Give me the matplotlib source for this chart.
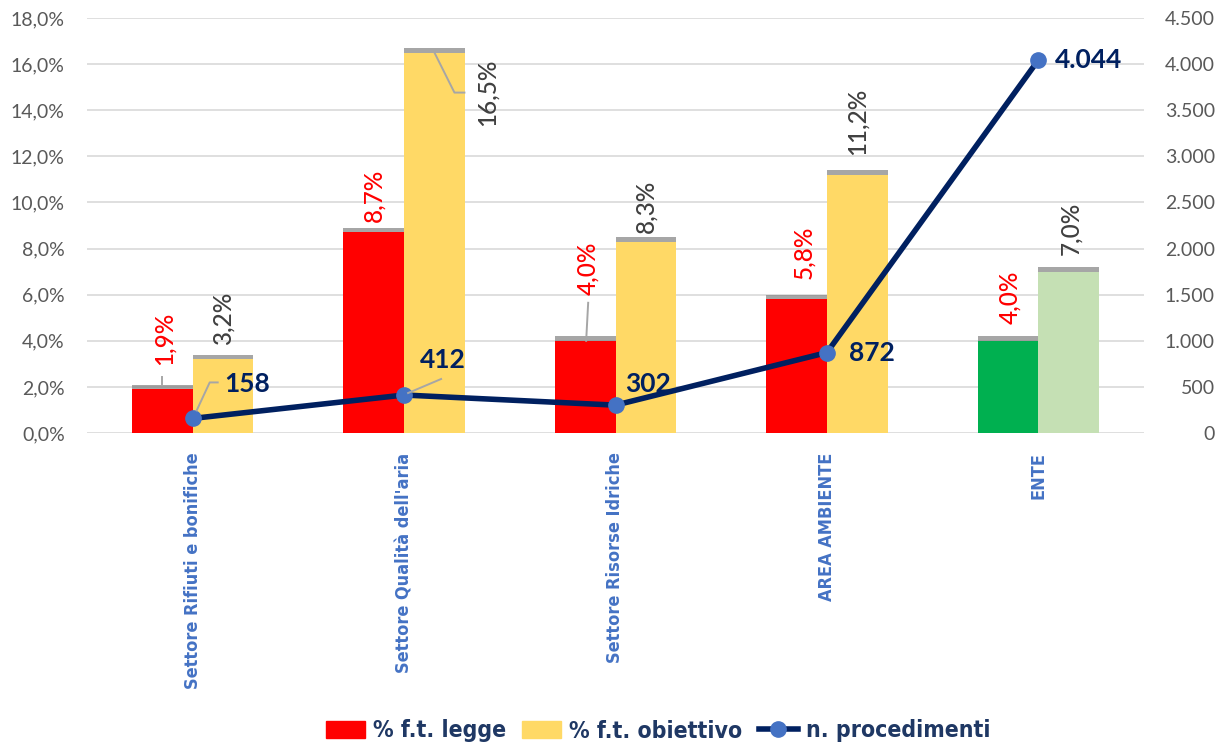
import matplotlib
matplotlib.use('Agg')
import matplotlib.pyplot as plt
import matplotlib.patheffects as pe
from matplotlib.lines import Line2D
from matplotlib.patches import Patch
from matplotlib.transforms import IdentityTransform
from matplotlib import font_manager as fm
import numpy as np

categories = ['Settore Rifiuti e bonifiche', "Settore Qualità dell'aria",
              'Settore Risorse Idriche', 'AREA AMBIENTE', 'ENTE']
legge = [1.9, 8.7, 4.0, 5.8, 4.0]
obiettivo = [3.2, 16.5, 8.3, 11.2, 7.0]
procedimenti = [158, 412, 302, 872, 4044]
left_ticks = [0, 2, 4, 6, 8, 10, 12, 14, 16, 18]
right_ticks = [0, 500, 1000, 1500, 2000, 2500, 3000, 3500, 4000, 4500]
series_names = ['% f.t. legge', '% f.t. obiettivo', 'n. procedimenti']


def has_font(name):
    try:
        fm.findfont(fm.FontProperties(family=name), fallback_to_default=False)
        return True
    except Exception:
        return False


NUM_FONT = 'Lato' if has_font('Lato') else 'DejaVu Sans'
NARROW = 'Liberation Sans Narrow' if has_font('Liberation Sans Narrow') else None


def narrow_props(size):
    if NARROW:
        return fm.FontProperties(family=NARROW, size=size, weight='bold')
    return fm.FontProperties(family='DejaVu Sans', size=size * 0.85, weight='bold', stretch='condensed')


def pct(v):
    return f"{v:.1f}%".replace('.', ',')


def thou(n):
    return f"{n:,}".replace(',', '.')


RED, YELLOW = '#FF0000', '#FFD966'
GREEN, LGREEN = '#00B050', '#C5E0B4'
NAVY, MBLUE, CATBLUE = '#002060', '#4472C4', '#4472C4'
GRAYTXT = '#595959'
LC = '#A6A6A6'

legge_colors = [RED] * 4 + [GREEN]
obiettivo_colors = [YELLOW] * 4 + [LGREEN]

fig = plt.figure(figsize=(12.3, 7.48), dpi=100)
ax = fig.add_axes([87 / 1230, 1 - 433 / 748, (1144 - 87) / 1230, (433 - 18) / 748])
ax2 = ax.twinx()

x = np.arange(len(categories))
w = 0.287

shadow = [pe.SimplePatchShadow(offset=(0, 3.2), shadow_rgbFace='#808080', alpha=0.7), pe.Normal()]
ax.bar(x - w / 2, legge, w, color=legge_colors, zorder=3, path_effects=shadow)
ax.bar(x + w / 2, obiettivo, w, color=obiettivo_colors, zorder=3, path_effects=shadow)

ax.set_xlim(-0.5, len(categories) - 0.5)
ax.set_ylim(0, 18)
ax.set_yticks(left_ticks)
ax.set_yticklabels([pct(t) for t in left_ticks], fontsize=14, family=NUM_FONT, color=GRAYTXT)
ax.tick_params(axis='y', length=0, pad=16)
ax.grid(axis='y', color='#D9D9D9', lw=1.2, zorder=0)
ax.set_axisbelow(True)
for s in ax.spines.values():
    s.set_visible(False)
ax.set_xticks(x)
ax.set_xticklabels(categories, rotation=90, va='top', ha='center', color=CATBLUE,
                   fontproperties=narrow_props(15.3))
ax.tick_params(axis='x', length=0, pad=14)

# bar data labels (offsets in pixels)
legge_off = [(2, 24), (0, 10), (3, 46), (7, 20), (2, 17)]
obj_off = [(0, 14), (53, -73), (0, 9), (0, 20), (2, 17)]
for i, v in enumerate(legge):
    dx, dy = legge_off[i]
    ax.annotate(pct(v), (x[i] - w / 2, v), xytext=(dx, dy), textcoords='offset pixels',
                rotation=90, ha='center', va='bottom', color=RED, fontsize=17.5,
                family=NUM_FONT, fontweight='medium', zorder=5)
for i, v in enumerate(obiettivo):
    dx, dy = obj_off[i]
    ax.annotate(pct(v), (x[i] + w / 2, v), xytext=(dx, dy), textcoords='offset pixels',
                rotation=90, ha='center', va='bottom', color='#404040', fontsize=17.5,
                family=NUM_FONT, fontweight='medium', zorder=5)

# line series
ax2.plot(x, procedimenti, color=NAVY, lw=4, marker='o', ms=11, mfc=MBLUE, mec=MBLUE,
         zorder=4, solid_capstyle='round')
ax2.set_ylim(0, 4500)
ax2.set_yticks(right_ticks)
ax2.set_yticklabels([thou(t) for t in right_ticks], fontsize=14, family=NUM_FONT, color=GRAYTXT)
for lbl in ax2.get_yticklabels():
    lbl.set_ha('right')
ax2.tick_params(axis='y', length=0, pad=51)
for s in ax2.spines.values():
    s.set_visible(False)

line_off = [(32, 34), (16, 35), (10, 21), (22, 0), (17, 0)]
for i, n in enumerate(procedimenti):
    dx, dy = line_off[i]
    ax2.annotate(thou(n), (x[i], n), xytext=(dx, dy), textcoords='offset pixels',
                 ha='left', va='center', color=NAVY, fontsize=19, fontweight='bold',
                 family=NUM_FONT, zorder=6)


# leader lines (pixel offsets from the labelled mark)
def leader(axis, xv, yv, offsets):
    px, py = axis.transData.transform((xv, yv))
    fig.add_artist(Line2D([px + dx for dx, dy in offsets], [py + dy for dx, dy in offsets],
                          transform=IdentityTransform(), color=LC, lw=1.4, zorder=5))


leader(ax, x[0] - w / 2, legge[0], [(0, 5), (0, 12)])
leader(ax, x[2] - w / 2, legge[2], [(1, 0), (3, 38)])
leader(ax, x[1] + w / 2, obiettivo[1], [(0, 0), (20, -40), (30, -40)])
leader(ax2, x[0], procedimenti[0], [(4, 8), (17, 36), (25, 36)])
leader(ax2, x[1], procedimenti[1], [(4, 2), (37, 16)])

handles = [Patch(color=RED), Patch(color=YELLOW),
           Line2D([0], [0], color=NAVY, lw=4, marker='o', ms=11, mfc=MBLUE, mec=MBLUE)]
leg = fig.legend(handles, series_names, loc='center', bbox_to_anchor=(0.535, 1 - 731 / 748),
                 ncol=3, frameon=False, handlelength=1.7, handleheight=0.72, handletextpad=0.35,
                 columnspacing=0.7, prop=narrow_props(19.5))
for t in leg.get_texts():
    t.set_color('#1F3864')

fig.savefig('out.png', dpi=100)
